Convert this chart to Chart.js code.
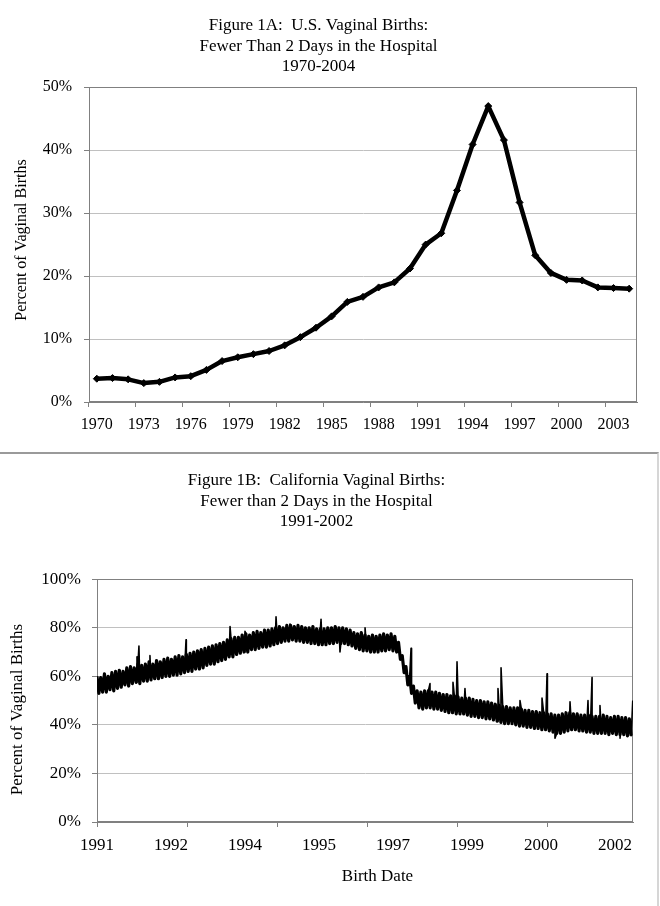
<!DOCTYPE html>
<html>
<head>
<meta charset="utf-8">
<title>Vaginal births: fewer than 2 days in the hospital</title>
<script src="https://cdn.jsdelivr.net/npm/chart.js@4.4.1/dist/chart.umd.min.js"></script>
<style>
  html, body { margin: 0; padding: 0; background: #fff; }
  #page { position: relative; width: 660px; height: 906px; overflow: hidden; }
  #usChart { position: absolute; left: 0; top: 0; }
  #caBox { position: absolute; left: -1px; top: 452px; width: 658px; height: 460px;
           border-top: 2px solid #9a9a9a; border-right: 2px solid #d6d6d6; }
  #caChart { position: absolute; left: 1px; top: 0; }
</style>
</head>
<body>
<div id="page">
  <canvas id="usChart" width="660" height="452"></canvas>
  <div id="caBox">
    <canvas id="caChart" width="656" height="452"></canvas>
  </div>
</div>
<script>
// Figure 1A - U.S., one value per year (percent)
const usYears = ['1970', '1971', '1972', '1973', '1974', '1975', '1976', '1977', '1978', '1979',
  '1980', '1981', '1982', '1983', '1984', '1985', '1986', '1987', '1988', '1989',
  '1990', '1991', '1992', '1993', '1994', '1995', '1996', '1997', '1998', '1999',
  '2000', '2001', '2002', '2003', '2004'];
const usShare = [3.7, 3.8, 3.6, 3.0, 3.2, 3.9, 4.1, 5.1, 6.5, 7.1,
  7.6, 8.1, 9.0, 10.3, 11.8, 13.6, 15.9, 16.7, 18.2, 19.0,
  21.2, 25.0, 26.8, 33.6, 40.9, 47.0, 41.6, 31.7, 23.3, 20.5,
  19.4, 19.3, 18.2, 18.1, 18.0];

// Figure 1B - California daily series, read off as the top and bottom of the
// noisy band, one pair per month, Jan 1991 .. Dec 2002 (one row per year)
const caHigh = [
  60, 59.5, 61, 60, 61.5, 62, 62.5, 62, 63.5, 64, 63.5, 65,
  64.5, 65, 66, 65, 66.5, 66, 67, 67.5, 67, 68, 68.5, 68,
  69, 69.5, 70, 70.5, 71, 71.5, 72, 72.5, 73, 73.5, 74, 75,
  75.5, 76, 76, 77, 77.5, 77, 78, 78.5, 78, 79, 79, 79.5,
  80, 80.5, 80, 81, 81, 80.5, 81, 80.5, 80, 80, 80.5, 79.5,
  79.5, 79.5, 80, 80, 80.5, 80, 80, 79.5, 79, 78, 77.5, 78,
  77, 76.5, 77, 76.5, 77, 77.5, 77, 77.5, 76.5, 74, 68.5, 64,
  60, 56, 54, 53.5, 54, 54, 53.5, 53.5, 53, 52.5, 52.5, 52,
  52, 51.5, 51, 51, 51, 50.5, 50, 50, 49.5, 49.5, 49, 48.5,
  48, 47.5, 47.5, 47, 47, 47, 46.5, 46, 46, 45.5, 45.5, 45,
  45, 44.5, 44.5, 44, 44, 44.5, 45, 45, 44.5, 44.5, 44, 44,
  44, 43.5, 43.5, 43.5, 44, 43.5, 43, 43.5, 43.5, 43, 43, 42.5
];
const caLow = [
  53, 53.5, 53.5, 54.5, 54, 55, 55.5, 56.5, 56, 57, 57.5, 57,
  58, 58, 58.5, 59, 59, 59.5, 60, 60, 60.5, 60.5, 61, 61.5,
  62, 62, 63, 63, 63.5, 64.5, 65, 65, 66, 66.5, 67, 68,
  68, 69, 69.5, 70, 70, 71, 71, 71.5, 72, 72, 72.5, 73,
  73.5, 74, 74.5, 74.5, 75, 74.5, 74.5, 74, 74, 73.5, 73.5, 73,
  73, 73, 73.5, 73.5, 74, 73.5, 73.5, 73, 72.5, 71.5, 71, 70.5,
  70.5, 70, 70, 70, 70.5, 70.5, 71, 70.5, 70, 67, 61.5, 56.5,
  53, 49, 47, 46.5, 47, 47, 46.5, 46.5, 46, 45.5, 45, 45,
  44.5, 44.5, 44.5, 44, 43.5, 43.5, 43, 43, 42.5, 42.5, 42, 41.5,
  41, 40.5, 40.5, 40.5, 40, 39.5, 39.5, 39, 39, 38.5, 38.5, 38,
  38, 37.5, 37, 36.5, 36.5, 37, 37.5, 38, 38, 37.5, 37.5, 37,
  37, 36.5, 36.5, 36.5, 36.5, 36, 36.5, 36, 36, 36, 35.5, 35.5
];
// single days sticking out of the band: [days since 1 Jan 1991, percent]
const caOutliers = [
  [327, 68], [343, 72.5], [433, 68.5], [728, 75], [842, 70], [1088, 80.5],
  [1210, 78.5], [1464, 84.5], [1578, 81.5], [1832, 83.5], [1987, 70], [2192, 80],
  [2519, 63], [2568, 71.5], [2723, 57], [2911, 57.5], [2944, 66], [3009, 55],
  [3279, 55], [3304, 63.5], [3459, 50], [3639, 51], [3680, 61], [3745, 34.5],
  [3868, 49.5], [4015, 50], [4048, 59.5], [4113, 48], [4277, 34.5], [4381, 50]
];
const caDays = 4383;
const caMonthDays = 30.44;
// Excel date axis: a label every 605 days, a tick mark every 736 days
const caTickLabels = ['1991', '1992', '1994', '1995', '1997', '1999', '2000', '2002'];
const caLabelStep = 605;
const caMarkStep = 736;

const SERIF = "'Liberation Serif', 'Times New Roman', serif";
const AXIS = '#808080';
const GRID = '#c0c0c0';
const NONE = 'rgba(0,0,0,0)';

Chart.defaults.font.family = SERIF;
Chart.defaults.color = '#000';

// grey frame round the plot area (Excel style)
const plotFrame = {
  id: 'plotFrame',
  beforeDatasetsDraw(chart) {
    const { ctx, chartArea: a } = chart;
    ctx.save();
    ctx.strokeStyle = AXIS;
    ctx.lineWidth = 1;
    ctx.strokeRect(Math.round(a.left) + 0.5, Math.round(a.top) + 0.5,
      Math.round(a.right - a.left) - 1, Math.round(a.bottom - a.top) - 1);
    ctx.restore();
  }
};

// axis captions placed where Excel put them
const captions = {
  id: 'captions',
  afterDraw(chart, args, opts) {
    const ctx = chart.ctx;
    ctx.save();
    ctx.fillStyle = '#000';
    ctx.textAlign = 'center';
    ctx.textBaseline = 'middle';
    (opts.items || []).forEach(it => {
      ctx.save();
      ctx.font = it.size + 'px ' + SERIF;
      ctx.translate(it.x, it.y);
      if (it.rotate) ctx.rotate(-Math.PI / 2);
      ctx.fillText(it.text, 0, 0);
      ctx.restore();
    });
    ctx.restore();
  }
};

const pct = v => v + '%';

// ---------- Figure 1A ----------
new Chart(document.getElementById('usChart'), {
  type: 'line',
  data: {
    labels: usYears,
    datasets: [{
      data: usShare,
      borderColor: '#000',
      backgroundColor: '#000',
      borderWidth: 4.5,
      borderJoinStyle: 'round',
      tension: 0,
      pointStyle: 'rectRot',
      pointRadius: 3.5,
      pointBorderWidth: 1,
      pointBackgroundColor: '#000',
      pointBorderColor: '#000'
    }]
  },
  options: {
    responsive: false,
    animation: false,
    devicePixelRatio: 1,
    events: [],
    layout: { padding: { left: 0, right: 23, top: 0, bottom: 0 } },
    plugins: {
      legend: { display: false },
      tooltip: { enabled: false },
      title: {
        display: true,
        text: ['Figure 1A:  U.S. Vaginal Births:', 'Fewer Than 2 Days in the Hospital', '1970-2004'],
        font: { size: 17, weight: 'normal', lineHeight: 1.18 },
        color: '#000',
        padding: { top: 16, bottom: 11 }
      },
      captions: {
        items: [{ text: 'Percent of Vaginal Births', x: 21.5, y: 240, rotate: true, size: 16 }]
      }
    },
    scales: {
      x: {
        offset: true,
        grid: {
          offset: true,
          drawOnChartArea: false,
          tickLength: 5,
          tickColor: ctx => (ctx.index % 3 === 0 ? AXIS : NONE)
        },
        border: { color: AXIS },
        ticks: {
          autoSkip: false,
          maxRotation: 0,
          padding: 8,
          font: { size: 16 },
          callback: (v, i) => (i % 3 === 0 ? usYears[i] : '')
        },
        afterFit: s => { s.height = 50; }
      },
      y: {
        min: 0,
        max: 50,
        grid: { color: GRID, tickColor: AXIS, tickLength: 5 },
        border: { color: AXIS },
        ticks: { stepSize: 10, padding: 12, font: { size: 16 }, callback: pct },
        afterFit: s => { s.width = 89; }
      }
    }
  },
  plugins: [plotFrame, captions]
});

// ---------- Figure 1B ----------
// the band: month by month, top then bottom
const caBand = [];
for (let m = 0; m < caHigh.length; m++) {
  caBand.push({ x: m * caMonthDays, y: caHigh[m] });
  caBand.push({ x: m * caMonthDays + caMonthDays / 2, y: caLow[m] });
}
// the same band with the odd days that stick out of it
const caDaily = caBand.concat(caOutliers.map(([d, v]) => ({ x: d, y: v })));
caDaily.sort((a, b) => a.x - b.x);

const caLabelDays = caTickLabels.map((_, i) => i * caLabelStep);
const caMarkDays = [];
for (let d = 0; d < caDays; d += caMarkStep) caMarkDays.push(d);
const caAllTicks = [...new Set([...caLabelDays, ...caMarkDays])].sort((a, b) => a - b);

new Chart(document.getElementById('caChart'), {
  type: 'line',
  data: {
    datasets: [{
      data: caDaily,
      borderColor: '#000',
      borderWidth: 1.6,
      borderJoinStyle: 'round',
      pointRadius: 0,
      tension: 0
    }, {
      data: caBand,
      borderColor: '#000',
      borderWidth: 3.2,
      borderJoinStyle: 'round',
      pointRadius: 0,
      tension: 0
    }]
  },
  options: {
    responsive: false,
    animation: false,
    devicePixelRatio: 1,
    events: [],
    parsing: false,
    normalized: true,
    layout: { padding: { left: 0, right: 23, top: 0, bottom: 0 } },
    plugins: {
      legend: { display: false },
      tooltip: { enabled: false },
      title: {
        display: true,
        text: ['Figure 1B:  California Vaginal Births:', 'Fewer than 2 Days in the Hospital', '1991-2002'],
        font: { size: 17, weight: 'normal', lineHeight: 1.18 },
        color: '#000',
        padding: { top: 17, bottom: 48 }
      },
      captions: {
        items: [
          { text: 'Percent of Vaginal Births', x: 18, y: 255.5, rotate: true, size: 17 },
          { text: 'Birth Date', x: 377.5, y: 423, rotate: false, size: 17 }
        ]
      }
    },
    scales: {
      x: {
        type: 'linear',
        min: 0,
        max: caDays,
        bounds: 'data',
        afterBuildTicks: s => { s.ticks = caAllTicks.map(v => ({ value: v })); },
        grid: {
          drawOnChartArea: false,
          tickLength: 5,
          tickColor: ctx => (ctx.tick && caMarkDays.includes(ctx.tick.value) ? AXIS : NONE)
        },
        border: { color: AXIS },
        ticks: {
          autoSkip: false,
          maxRotation: 0,
          padding: 8,
          font: { size: 17 },
          callback: v => {
            const i = caLabelDays.indexOf(v);
            return i >= 0 ? caTickLabels[i] : '';
          }
        },
        afterFit: s => { s.height = 84; }
      },
      y: {
        min: 0,
        max: 100,
        grid: { color: GRID, tickColor: AXIS, tickLength: 5 },
        border: { color: AXIS },
        ticks: { stepSize: 20, padding: 11, font: { size: 17 }, callback: pct },
        afterFit: s => { s.width = 97; }
      }
    }
  },
  plugins: [plotFrame, captions]
});
</script>
</body>
</html>
